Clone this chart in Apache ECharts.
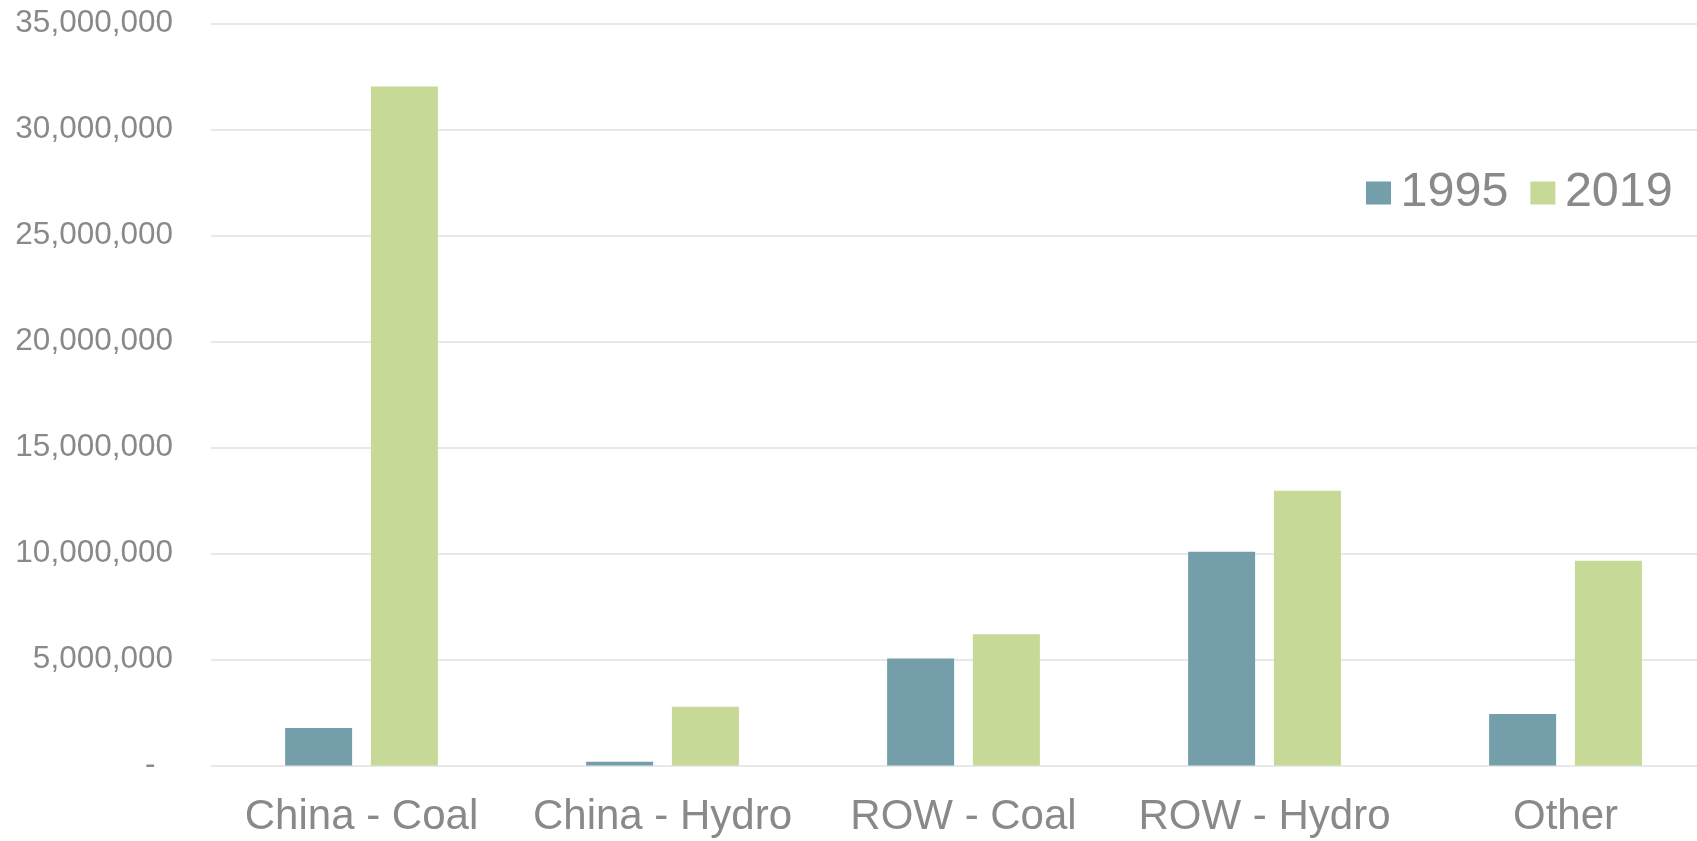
<!DOCTYPE html>
<html>
<head>
<meta charset="utf-8">
<script src="https://cdn.jsdelivr.net/npm/echarts@6/dist/echarts.min.js"></script>
<style>
  html, body { margin: 0; padding: 0; background: #ffffff; overflow: hidden; }
  /* the plot area runs slightly past the right edge of the window */
  #chart { width: 1716px; height: 841px; }
</style>
</head>
<body>
<div id="chart"></div>
<script>
// Generation by source, 1995 vs 2019
const categories = ['China - Coal', 'China - Hydro', 'ROW - Coal', 'ROW - Hydro', 'Other'];
const values1995 = [1770000, 180000, 5040000, 10080000, 2430000];
const values2019 = [32020000, 2770000, 6190000, 12960000, 9650000];
const seriesNames = ['1995', '2019'];

const textColor = '#898989';
const font = 'Liberation Sans, Arial, sans-serif';

function fmtAxis(v) {
  if (v === 0) return '-  ';
  return v.toLocaleString('en-US');
}

const chart = echarts.init(document.getElementById('chart'), null, { renderer: 'canvas' });
chart.setOption({
  animation: false,
  backgroundColor: '#ffffff',
  grid: { left: 211, right: 0, top: 23.3, bottom: 75.5, containLabel: false },
  legend: {
    data: seriesNames,
    left: 1366,
    top: 168.5,
    padding: 0,
    itemWidth: 25,
    itemHeight: 23,
    itemGap: 22,
    icon: 'rect',
    textStyle: { color: textColor, fontSize: 48.5, fontFamily: font, lineHeight: 48, padding: [0, 0, 0, 4.5] }
  },
  xAxis: {
    type: 'category',
    data: categories,
    axisLine: { show: false },
    axisTick: { show: false },
    axisLabel: { color: textColor, fontSize: 42, fontFamily: font, margin: 31, interval: 0 }
  },
  yAxis: {
    type: 'value',
    min: 0,
    max: 35000000,
    interval: 5000000,
    axisLine: { show: false },
    axisTick: { show: false },
    splitLine: { lineStyle: { color: '#e0e0e0', width: 1.5 } },
    axisLabel: { color: textColor, fontSize: 31.5, fontFamily: font, margin: 38, formatter: fmtAxis }
  },
  series: [
    {
      name: seriesNames[0],
      type: 'bar',
      data: values1995,
      barWidth: 67,
      barGap: '28%',
      itemStyle: { color: '#739eaa' }
    },
    {
      name: seriesNames[1],
      type: 'bar',
      data: values2019,
      barWidth: 67,
      barGap: '28%',
      itemStyle: { color: '#c6d996' }
    }
  ]
});
</script>
</body>
</html>
